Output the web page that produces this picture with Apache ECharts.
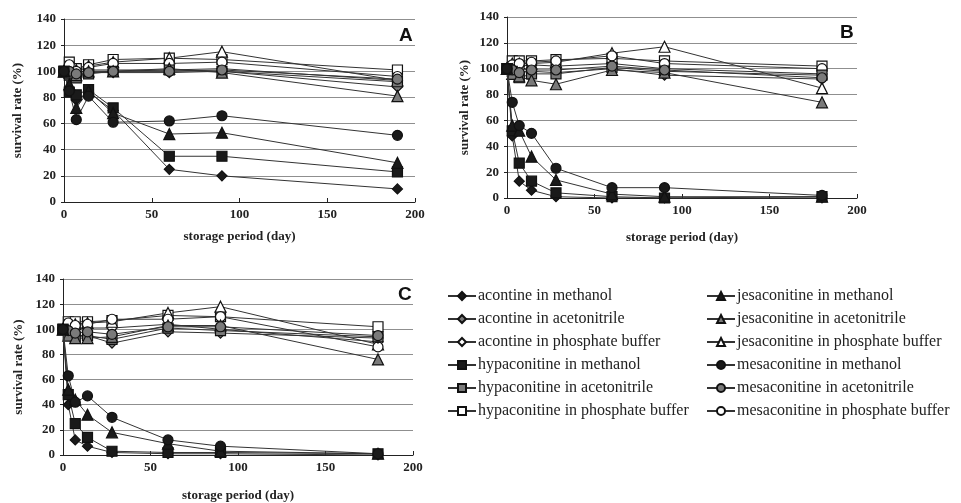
<!DOCTYPE html>
<html><head><meta charset="utf-8">
<script src="https://cdn.jsdelivr.net/npm/echarts@6/dist/echarts.min.js"></script>
<style>html,body{margin:0;padding:0;background:#fff}#c{width:961px;height:503px}</style>
</head><body><div id="c"></div><script>
// time points (days)
const daysA = [0, 3, 7, 14, 28, 60, 90, 190];
const daysB = [0, 3, 7, 14, 28, 60, 90, 180];
const daysC = [0, 3, 7, 14, 28, 60, 90, 180];
const xTicks = [0, 50, 100, 150, 200];
const yTicks = [0, 20, 40, 60, 80, 100, 120, 140];

// Panel A
const A_aco_meoh = [100, 86, 78, 84, 70, 25, 20, 10];
const A_aco_acn  = [100, 98, 96, 99, 99, 99, 100, 88];
const A_aco_pb   = [100, 101, 99, 101, 101, 101, 102, 93];
const A_hyp_meoh = [100, 84, 82, 86, 72, 35, 35, 23];
const A_hyp_acn  = [100, 97, 95, 98, 100, 101, 100, 92];
const A_hyp_pb   = [100, 107, 102, 105, 109, 110, 109, 101];
const A_jes_meoh = [100, 90, 72, 85, 68, 52, 53, 30];
const A_jes_acn  = [100, 99, 97, 100, 100, 102, 99, 81];
const A_jes_pb   = [100, 104, 101, 104, 107, 110, 115, 93];
const A_mes_meoh = [100, 85, 63, 81, 61, 62, 66, 51];
const A_mes_acn  = [100, 100, 98, 99, 100, 100, 101, 94];
const A_mes_pb   = [100, 105, 100, 103, 106, 106, 107, 96];

// Panel B
const B_aco_meoh = [100, 48, 13, 6, 1, 0, 0, 0];
const B_aco_acn  = [100, 100, 97, 98, 97, 100, 95, 92];
const B_aco_pb   = [100, 103, 102, 103, 102, 104, 100, 96];
const B_hyp_meoh = [100, 52, 27, 13, 4, 1, 0, 1];
const B_hyp_acn  = [100, 98, 93, 96, 96, 101, 98, 95];
const B_hyp_pb   = [100, 106, 106, 106, 107, 108, 106, 102];
const B_jes_meoh = [100, 56, 52, 32, 14, 3, 1, 1];
const B_jes_acn  = [100, 96, 94, 91, 88, 99, 97, 74];
const B_jes_pb   = [100, 104, 104, 104, 105, 112, 117, 85];
const B_mes_meoh = [100, 74, 56, 50, 23, 8, 8, 2];
const B_mes_acn  = [100, 99, 97, 99, 99, 102, 99, 93];
const B_mes_pb   = [100, 103, 104, 105, 106, 110, 104, 100];

// Panel C
const C_aco_meoh = [100, 40, 12, 7, 2, 1, 1, 0];
const C_aco_acn  = [100, 97, 95, 95, 89, 98, 97, 93];
const C_aco_pb   = [100, 102, 101, 101, 101, 104, 100, 90];
const C_hyp_meoh = [100, 48, 25, 14, 3, 2, 2, 1];
const C_hyp_acn  = [100, 96, 94, 95, 92, 101, 99, 94];
const C_hyp_pb   = [100, 106, 106, 106, 107, 111, 110, 102];
const C_jes_meoh = [100, 52, 44, 32, 18, 9, 3, 1];
const C_jes_acn  = [100, 95, 93, 93, 94, 103, 103, 76];
const C_jes_pb   = [100, 104, 104, 105, 106, 113, 118, 88];
const C_mes_meoh = [100, 63, 42, 47, 30, 12, 7, 1];
const C_mes_acn  = [100, 99, 97, 98, 96, 102, 102, 95];
const C_mes_pb   = [100, 105, 103, 104, 108, 108, 110, 86];

const compounds = ['acontine', 'hypaconitine', 'jesaconitine', 'mesaconitine'];
const solvents = ['methanol', 'acetonitrile', 'phosphate buffer'];
const panelLetters = ['A', 'B', 'C'];

const panels = [
  { days: daysA, data: [[A_aco_meoh, A_aco_acn, A_aco_pb], [A_hyp_meoh, A_hyp_acn, A_hyp_pb], [A_jes_meoh, A_jes_acn, A_jes_pb], [A_mes_meoh, A_mes_acn, A_mes_pb]] },
  { days: daysB, data: [[B_aco_meoh, B_aco_acn, B_aco_pb], [B_hyp_meoh, B_hyp_acn, B_hyp_pb], [B_jes_meoh, B_jes_acn, B_jes_pb], [B_mes_meoh, B_mes_acn, B_mes_pb]] },
  { days: daysC, data: [[C_aco_meoh, C_aco_acn, C_aco_pb], [C_hyp_meoh, C_hyp_acn, C_hyp_pb], [C_jes_meoh, C_jes_acn, C_jes_pb], [C_mes_meoh, C_mes_acn, C_mes_pb]] }
];

const symbols = ['diamond', 'rect', 'triangle', 'circle'];
const symSizes = [10, 10, 11, 10];
const fills = ['#1a1a1a', '#7a7a7a', '#ffffff'];
const serif = '"Liberation Serif", "DejaVu Serif", serif';
const txt = '#222';

const grids = [
  { left: 64, top: 19, width: 351, height: 183 },
  { left: 507, top: 17, width: 350, height: 181 },
  { left: 63, top: 279, width: 350, height: 182 }
];
const xNameGap = [28, 33, 34];
const yNameGap = [40, 36, 38];

const xAxes = grids.map((g, i) => ({
  gridIndex: i, type: 'value', min: xTicks[0], max: xTicks[xTicks.length - 1], interval: xTicks[1] - xTicks[0],
  axisLine: { lineStyle: { color: txt, width: 1 } },
  axisTick: { inside: true, length: 4, lineStyle: { color: txt } },
  axisLabel: { fontFamily: serif, fontWeight: 'bold', fontSize: 13, color: txt, margin: 6 },
  splitLine: { show: false },
  name: 'storage period (day)', nameLocation: 'middle', nameGap: xNameGap[i],
  nameTextStyle: { fontFamily: serif, fontWeight: 'bold', fontSize: 13, color: txt }
}));
const yAxes = grids.map((g, i) => ({
  gridIndex: i, type: 'value', min: yTicks[0], max: yTicks[yTicks.length - 1], interval: yTicks[1] - yTicks[0],
  axisLine: { show: true, lineStyle: { color: txt, width: 1 } },
  axisTick: { show: true, length: 3, lineStyle: { color: txt } },
  axisLabel: { fontFamily: serif, fontWeight: 'bold', fontSize: 13, color: txt, margin: 8 },
  splitLine: { show: true, lineStyle: { color: '#8f8f8f', width: 1 } },
  name: 'survival rate (%)', nameLocation: 'middle', nameGap: yNameGap[i],
  nameTextStyle: { fontFamily: serif, fontWeight: 'bold', fontSize: 13, color: txt }
}));

const series = [];
panels.forEach((p, gi) => {
  compounds.forEach((c, ci) => {
    solvents.forEach((s, si) => {
      series.push({
        type: 'line', name: c + ' in ' + s,
        xAxisIndex: gi, yAxisIndex: gi,
        data: p.days.map((d, k) => [d, p.data[ci][si][k]]),
        symbol: symbols[ci], symbolSize: symSizes[ci],
        lineStyle: { color: '#333', width: 1 },
        itemStyle: { color: fills[si], borderColor: '#111', borderWidth: 1.2 },
        z: 2 + (2 - si),
        animation: false
      });
    });
  });
});

const allNames = [];
compounds.forEach(c => solvents.forEach(s => allNames.push(c + ' in ' + s)));

const legendBase = {
  orient: 'vertical', itemWidth: 28, itemHeight: 10, itemGap: 7,
  textStyle: { fontFamily: serif, fontSize: 16, color: txt, padding: [0, 0, 0, -3] },
  inactiveColor: '#ccc'
};

const letterPos = [[399, 26], [840, 23], [398, 285]];

const chart = echarts.init(document.getElementById('c'), null, { renderer: 'canvas' });
chart.setOption({
  backgroundColor: '#fff',
  animation: false,
  grid: grids,
  xAxis: xAxes,
  yAxis: yAxes,
  series: series,
  legend: [
    Object.assign({}, legendBase, { left: 442, top: 283, data: allNames.slice(0, 6) }),
    Object.assign({}, legendBase, { left: 701, top: 283, data: allNames.slice(6, 12) })
  ],
  graphic: panelLetters.map((L, i) => ({
    type: 'text', left: letterPos[i][0], top: letterPos[i][1],
    style: { text: L, font: 'bold 19px "Liberation Sans", Arial, sans-serif', fill: '#111' }
  }))
});
</script></body></html>
